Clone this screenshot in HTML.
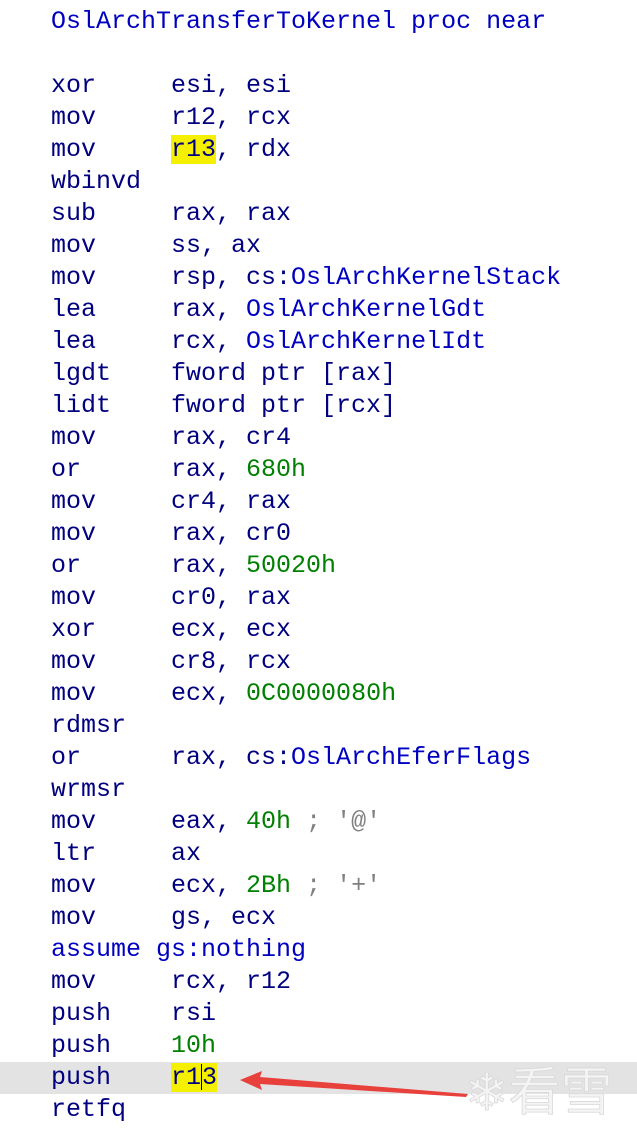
<!DOCTYPE html>
<html><head><style>
body{margin:0;width:637px;height:1144px;background:#fff;overflow:hidden;position:relative;font-family:"Liberation Mono",monospace;}
.l{position:absolute;left:51px;height:32px;line-height:32px;font-size:25px;color:#000080;white-space:pre;}
.g{color:#008000}.b{color:#0000c0}.y{background:#f5f000}
.hl{position:absolute;left:0;top:1062px;width:637px;height:32px;background:#e3e3e3}
.cur{display:inline-block;width:0;height:26px;border-left:1.5px solid #000;vertical-align:middle;}
</style></head><body>
<div class="hl"></div>
<div class="l b" style="top:6px">OslArchTransferToKernel proc near</div>
<div class="l" style="top:70px">xor     esi, esi</div>
<div class="l" style="top:102px">mov     r12, rcx</div>
<div class="l" style="top:134px">mov     <span class="y">r13</span>, rdx</div>
<div class="l" style="top:166px">wbinvd</div>
<div class="l" style="top:198px">sub     rax, rax</div>
<div class="l" style="top:230px">mov     ss, ax</div>
<div class="l" style="top:262px">mov     rsp, cs:<span class="b">OslArchKernelStack</span></div>
<div class="l" style="top:294px">lea     rax, <span class="b">OslArchKernelGdt</span></div>
<div class="l" style="top:326px">lea     rcx, <span class="b">OslArchKernelIdt</span></div>
<div class="l" style="top:358px">lgdt    fword ptr [rax]</div>
<div class="l" style="top:390px">lidt    fword ptr [rcx]</div>
<div class="l" style="top:422px">mov     rax, cr4</div>
<div class="l" style="top:454px">or      rax, <span class="g">680h</span></div>
<div class="l" style="top:486px">mov     cr4, rax</div>
<div class="l" style="top:518px">mov     rax, cr0</div>
<div class="l" style="top:550px">or      rax, <span class="g">50020h</span></div>
<div class="l" style="top:582px">mov     cr0, rax</div>
<div class="l" style="top:614px">xor     ecx, ecx</div>
<div class="l" style="top:646px">mov     cr8, rcx</div>
<div class="l" style="top:678px">mov     ecx, <span class="g">0C0000080h</span></div>
<div class="l" style="top:710px">rdmsr</div>
<div class="l" style="top:742px">or      rax, cs:<span class="b">OslArchEferFlags</span></div>
<div class="l" style="top:774px">wrmsr</div>
<div class="l" style="top:806px">mov     eax, <span class="g">40h</span> <span style="color:#808080">; '@'</span></div>
<div class="l" style="top:838px">ltr     ax</div>
<div class="l" style="top:870px">mov     ecx, <span class="g">2Bh</span> <span style="color:#808080">; '+'</span></div>
<div class="l" style="top:902px">mov     gs, ecx</div>
<div class="l b" style="top:934px">assume gs:nothing</div>
<div class="l" style="top:966px">mov     rcx, r12</div>
<div class="l" style="top:998px">push    rsi</div>
<div class="l" style="top:1030px">push    <span class="g">10h</span></div>
<div class="l" style="top:1062px">push    <span class="y">r1<span class="cur"></span>3</span></div>
<div class="l" style="top:1094px">retfq</div>
<svg style="position:absolute;left:0;top:0" width="637" height="1144">
<polygon points="240,1080 262,1071 260,1077 468,1094 466,1097 260,1084 262,1090" fill="#e8403a"/>
<text x="465" y="1110" font-size="52" fill="#f4f4f4" stroke="#d8d8d8" stroke-width="0.8" font-family="Noto Sans CJK SC,sans-serif">❄看雪</text>
</svg>
</body></html>
